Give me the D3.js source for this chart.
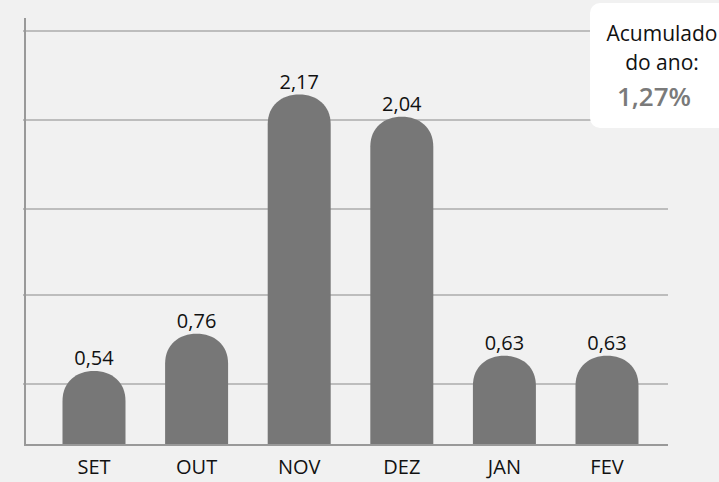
<!DOCTYPE html>
<html>
<head>
<meta charset="utf-8">
<script src="https://cdn.jsdelivr.net/npm/d3@7"></script>
<style>
  body { margin: 0; background: #f1f1f1; }
  svg { display: block; font-family: "Open Sans", sans-serif; }
</style>
</head>
<body>
<svg width="719" height="482"></svg>
<script>
// months and monthly values
var months = ['SET', 'OUT', 'NOV', 'DEZ', 'JAN', 'FEV'];
var values = [0.54, 0.76, 2.17, 2.04, 0.63, 0.63];
var valueLabels = ['0,54', '0,76', '2,17', '2,04', '0,63', '0,63'];
// horizontal guide lines (in value units)
var gridValues = [0.464, 0.988, 1.495, 2.02, 2.545];
var boxLines = ['Acumulado', 'do ano:'];
var boxTotal = '1,27%';

const svg = d3.select('svg');
var x0 = 25, x1 = 668, base = 445;

var x = d3.scaleBand().domain(months).range([62.5, 638.5]).paddingInner(0.386).paddingOuter(0);
// the infographic baseline sits a little above zero
var y = d3.scaleLinear().domain([0.104, 2.7]).range([base, base - (2.7 - 0.104) * 169.6]);

// grid
svg.append('g')
  .selectAll('line')
  .data(gridValues)
  .enter().append('line')
  .attr('x1', x0 - 2).attr('x2', x1)
  .attr('y1', d => y(d)).attr('y2', d => y(d))
  .style('stroke', '#ababab')
  .style('stroke-width', 1.5);

// bars with rounded tops
function barPath(d, i) {
  var bx = x(months[i]), bw = x.bandwidth(), top = y(d);
  var rx = bw / 2, ry = Math.min(30, base - top);
  return 'M' + bx + ',' + base +
    'L' + bx + ',' + (top + ry) +
    'C' + bx + ',' + (top + ry * 0.35) + ' ' + (bx + rx * 0.45) + ',' + top + ' ' + (bx + rx) + ',' + top +
    'C' + (bx + bw - rx * 0.45) + ',' + top + ' ' + (bx + bw) + ',' + (top + ry * 0.35) + ' ' + (bx + bw) + ',' + (top + ry) +
    'L' + (bx + bw) + ',' + base + 'Z';
}
svg.append('g')
  .selectAll('path')
  .data(values)
  .enter().append('path')
  .attr('d', barPath)
  .attr('fill', '#777777');

// value labels
svg.append('g')
  .selectAll('text')
  .data(values)
  .enter().append('text')
  .attr('x', (d, i) => x(months[i]) + x.bandwidth() / 2)
  .attr('y', d => y(d) - 6)
  .attr('text-anchor', 'middle')
  .style('font-size', '20px')
  .style('fill', '#111')
  .text((d, i) => valueLabels[i]);

// axes lines
svg.append('line')
  .attr('x1', x0).attr('x2', x0).attr('y1', 18).attr('y2', base + 1)
  .style('stroke', '#999').style('stroke-width', 2);
svg.append('line')
  .attr('x1', x0).attr('x2', x1).attr('y1', base).attr('y2', base)
  .style('stroke', '#999').style('stroke-width', 2);

// month labels
svg.append('g')
  .selectAll('text')
  .data(months)
  .enter().append('text')
  .attr('x', d => x(d) + x.bandwidth() / 2)
  .attr('y', 474)
  .attr('text-anchor', 'middle')
  .style('font-size', '20px')
  .style('fill', '#111')
  .text(d => d);

// accumulated box
const box = svg.append('g');
box.append('rect')
  .attr('x', 590).attr('y', 3).attr('width', 150).attr('height', 125)
  .attr('rx', 10)
  .attr('fill', '#fff');
box.selectAll('text.l')
  .data(boxLines)
  .enter().append('text')
  .attr('class', 'l')
  .attr('x', 662)
  .attr('y', (d, i) => 41 + i * 29)
  .attr('text-anchor', 'middle')
  .style('font-size', '21px')
  .style('fill', '#111')
  .text(d => d);
box.append('text')
  .attr('x', 654).attr('y', 106)
  .attr('text-anchor', 'middle')
  .style('font-size', '26px')
  .style('font-weight', '600')
  .style('fill', '#7a7a7a')
  .text(boxTotal);
</script>
</body>
</html>
